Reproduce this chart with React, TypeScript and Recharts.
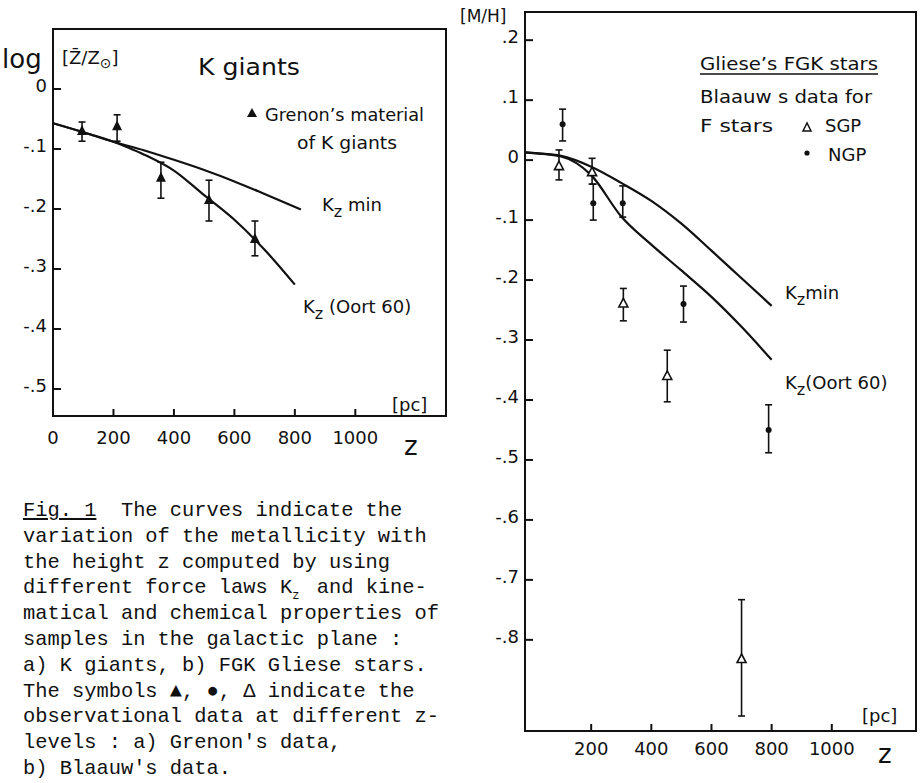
import React from 'react';
import { ComposedChart, Line, Scatter, XAxis, YAxis, ErrorBar, ReferenceArea } from 'recharts';

// ---- panel a) K giants ----
const kzMinZLeft = [0, 100, 200, 300, 400, 500, 600, 700, 820];
const kzMinLeft = [-0.057, -0.072, -0.088, -0.102, -0.118, -0.135, -0.154, -0.175, -0.201];
const kzOortZLeft = [0, 100, 200, 250, 300, 400, 500, 600, 700, 800];
const kzOortLeft = [-0.057, -0.072, -0.088, -0.098, -0.109, -0.136, -0.177, -0.218, -0.268, -0.326];

const grenonZ = [96, 212, 357, 516, 668];
const grenonVal = [-0.07, -0.062, -0.148, -0.185, -0.25];
const grenonHigh = [-0.055, -0.043, -0.122, -0.152, -0.22];
const grenonLow = [-0.087, -0.087, -0.182, -0.22, -0.278];

const xTicksLeft = [0, 200, 400, 600, 800, 1000];
const xTickLabelsLeft = ['0', '200', '400', '600', '800', '1000'];
const yTicksLeft = [0, -0.1, -0.2, -0.3, -0.4, -0.5];
const yTickLabelsLeft = ['0', '-.1', '-.2', '-.3', '-.4', '-.5'];

// ---- panel b) Gliese FGK stars ----
const curveZRight = [-20, 0, 100, 200, 300, 400, 500, 600, 700, 800];
const kzMinRight = [0.013, 0.012, 0.007, -0.011, -0.038, -0.068, -0.106, -0.151, -0.197, -0.243];
const kzOortRight = [0.013, 0.012, 0.006, -0.025, -0.094, -0.141, -0.184, -0.228, -0.278, -0.333];

const ngpZ = [105, 207, 305, 507, 790];
const ngpVal = [0.06, -0.072, -0.072, -0.24, -0.45];
const ngpHigh = [0.085, -0.04, -0.043, -0.21, -0.408];
const ngpLow = [0.032, -0.1, -0.095, -0.27, -0.488];

const sgpZ = [93, 203, 307, 453, 700];
const sgpVal = [-0.01, -0.02, -0.239, -0.36, -0.832];
const sgpHigh = [0.017, 0.003, -0.214, -0.317, -0.733];
const sgpLow = [-0.033, -0.04, -0.268, -0.403, -0.927];

const xTicksRight = [200, 400, 600, 800, 1000];
const xTickLabelsRight = ['200', '400', '600', '800', '1000'];
const yTicksRight = [0.2, 0.1, 0, -0.1, -0.2, -0.3, -0.4, -0.5, -0.6, -0.7, -0.8];
const yTickLabelsRight = ['.2', '.1', '0', '-.1', '-.2', '-.3', '-.4', '-.5', '-.6', '-.7', '-.8'];

const captionLines = [
  'The curves indicate the',
  'variation of the metallicity with',
  'the height z computed by using',
  'different force laws K',
  'matical and chemical properties of',
  'samples in the galactic plane :',
  'a) K giants, b) FGK Gliese stars.',
  'The symbols \u25B2, \u25CF, \u0394 indicate the',
  'observational data at different z-',
  'levels : a) Grenon\'s data,',
  'b) Blaauw\'s data.',
];

const INK = '#111';
const FONT = '"DejaVu Sans", sans-serif';

const toCurve = (zs: number[], vs: number[]) => zs.map((z, i) => ({ z, v: vs[i] }));
const toPoints = (zs: number[], vs: number[], hi: number[], lo: number[]) =>
  zs.map((z, i) => ({ z, v: vs[i], err: [vs[i] - lo[i], hi[i] - vs[i]] }));

const FilledTriangle = (p: any) => (
  <polygon points={`${p.cx},${p.cy - 6} ${p.cx - 5},${p.cy + 4} ${p.cx + 5},${p.cy + 4}`} fill={INK} />
);
const OpenTriangle = (p: any) => (
  <polygon
    points={`${p.cx},${p.cy - 5} ${p.cx - 4.5},${p.cy + 3.5} ${p.cx + 4.5},${p.cy + 3.5}`}
    fill="#fff"
    stroke={INK}
    strokeWidth={1.6}
  />
);
const Dot = (p: any) => <circle cx={p.cx} cy={p.cy} r={3} fill={INK} />;

// tick marks drawn inside the frame, labels outside
const makeXTick = (ticks: number[], labels: string[], off: number) => (p: any) => {
  const i = ticks.indexOf(p.payload.value);
  return (
    <g>
      {p.payload.value !== 0 && <line x1={p.x} x2={p.x} y1={p.y} y2={p.y - 7} stroke={INK} strokeWidth={2} />}
      <text x={p.x} y={p.y + off} textAnchor="middle" fontSize={18} fontFamily={FONT} fill={INK}>
        {labels[i]}
      </text>
    </g>
  );
};

const makeYTick = (ticks: number[], labels: string[]) => (p: any) => {
  const i = ticks.indexOf(p.payload.value);
  return (
    <g>
      <line x1={p.x} x2={p.x + 8} y1={p.y} y2={p.y} stroke={INK} strokeWidth={2} />
      <text x={p.x - 6} y={p.y + 3} textAnchor="end" fontSize={18} fontFamily={FONT} fill={INK}>
        {labels[i]}
      </text>
    </g>
  );
};

const Kz = ({ x, y, rest }: { x: number; y: number; rest: string }) => (
  <text x={x} y={y} fontSize={18} fontFamily={FONT} fill={INK}>
    K<tspan dy={6} fontSize={16}>z</tspan>
    <tspan dy={-6}>{rest}</tspan>
  </text>
);

export default function App() {
  const leftDomainX: [number, number] = [0, 1300];
  const leftDomainY: [number, number] = [-0.545, 0.1];
  const rightDomainX: [number, number] = [-20, 1280];
  const rightDomainY: [number, number] = [-0.952, 0.247];

  return (
    <div style={{ position: 'absolute', left: 0, top: 0, width: 921, height: 783, background: '#fff', overflow: 'hidden' }}>
      <div style={{ position: 'absolute', left: 0, top: 0 }}>
        <ComposedChart width={460} height={460} margin={{ top: 29, right: 14, bottom: 43, left: 52 }}>
          <XAxis
            type="number"
            dataKey="z"
            domain={leftDomainX}
            ticks={xTicksLeft}
            interval={0}
            allowDataOverflow
            axisLine={false}
            tickLine={false}
            tickSize={0}
            tickMargin={0}
            height={1}
            tick={makeXTick(xTicksLeft, xTickLabelsLeft, 28)}
          />
          <YAxis
            type="number"
            domain={leftDomainY}
            ticks={yTicksLeft}
            interval={0}
            allowDataOverflow
            axisLine={false}
            tickLine={false}
            tickSize={0}
            tickMargin={0}
            width={1}
            tick={makeYTick(yTicksLeft, yTickLabelsLeft)}
          />
          <ReferenceArea
            x1={leftDomainX[0]}
            x2={leftDomainX[1]}
            y1={leftDomainY[0]}
            y2={leftDomainY[1]}
            fill="none"
            stroke={INK}
            strokeWidth={2}
            ifOverflow="visible"
          />
          <Line data={toCurve(kzMinZLeft, kzMinLeft)} dataKey="v" type="monotone" stroke={INK} strokeWidth={2.2} dot={false} isAnimationActive={false} />
          <Line data={toCurve(kzOortZLeft, kzOortLeft)} dataKey="v" type="monotone" stroke={INK} strokeWidth={2.2} dot={false} isAnimationActive={false} />
          <Scatter data={toPoints(grenonZ, grenonVal, grenonHigh, grenonLow)} dataKey="v" shape={FilledTriangle} isAnimationActive={false}>
            <ErrorBar dataKey="err" direction="y" width={3.5} stroke={INK} strokeWidth={1.6} isAnimationActive={false} />
          </Scatter>
        </ComposedChart>
      </div>

      <div style={{ position: 'absolute', left: 460, top: 0 }}>
        <ComposedChart width={461} height={783} margin={{ top: 12, right: 5, bottom: 51, left: 64 }}>
          <XAxis
            type="number"
            dataKey="z"
            domain={rightDomainX}
            ticks={xTicksRight}
            interval={0}
            allowDataOverflow
            axisLine={false}
            tickLine={false}
            tickSize={0}
            tickMargin={0}
            height={1}
            tick={makeXTick(xTicksRight, xTickLabelsRight, 24)}
          />
          <YAxis
            type="number"
            domain={rightDomainY}
            ticks={yTicksRight}
            interval={0}
            allowDataOverflow
            axisLine={false}
            tickLine={false}
            tickSize={0}
            tickMargin={0}
            width={1}
            tick={makeYTick(yTicksRight, yTickLabelsRight)}
          />
          <ReferenceArea
            x1={rightDomainX[0]}
            x2={rightDomainX[1]}
            y1={rightDomainY[0]}
            y2={rightDomainY[1]}
            fill="none"
            stroke={INK}
            strokeWidth={2}
            ifOverflow="visible"
          />
          <Line data={toCurve(curveZRight, kzMinRight)} dataKey="v" type="monotone" stroke={INK} strokeWidth={2.2} dot={false} isAnimationActive={false} />
          <Line data={toCurve(curveZRight, kzOortRight)} dataKey="v" type="monotone" stroke={INK} strokeWidth={2.2} dot={false} isAnimationActive={false} />
          <Scatter data={toPoints(ngpZ, ngpVal, ngpHigh, ngpLow)} dataKey="v" shape={Dot} isAnimationActive={false}>
            <ErrorBar dataKey="err" direction="y" width={3.5} stroke={INK} strokeWidth={1.6} isAnimationActive={false} />
          </Scatter>
          <Scatter data={toPoints(sgpZ, sgpVal, sgpHigh, sgpLow)} dataKey="v" shape={OpenTriangle} isAnimationActive={false}>
            <ErrorBar dataKey="err" direction="y" width={3.5} stroke={INK} strokeWidth={1.6} isAnimationActive={false} />
          </Scatter>
        </ComposedChart>
      </div>

      {/* lettering of both panels */}
      <svg width={921} height={783} style={{ position: 'absolute', left: 0, top: 0, pointerEvents: 'none' }}>
        <text x={2} y={68} fontSize={26} fontFamily={FONT} fill={INK}>log</text>
        <text x={62} y={64} fontSize={18} fontFamily={FONT} fill={INK}>
          [Z̄/Z<tspan dy={4} fontSize={14}>⊙</tspan><tspan dy={-4}>]</tspan>
        </text>
        <text x={198} y={75} fontSize={23} fontFamily={FONT} fill={INK} textLength={102} lengthAdjust="spacingAndGlyphs">K giants</text>
        <polygon points="252,108 247,117 257,117" fill={INK} />
        <text x={265} y={121} fontSize={17.5} fontFamily={FONT} fill={INK} textLength={159} lengthAdjust="spacingAndGlyphs">Grenon’s material</text>
        <text x={297} y={149} fontSize={17.5} fontFamily={FONT} fill={INK} textLength={100} lengthAdjust="spacingAndGlyphs">of K giants</text>
        <Kz x={322} y={211} rest=" min" />
        <Kz x={303} y={313} rest=" (Oort 60)" />
        <text x={392} y={411} fontSize={18} fontFamily={FONT} fill={INK}>[pc]</text>
        <text x={404} y={455} fontSize={26} fontFamily={FONT} fill={INK}>z</text>

        <text x={460} y={22} fontSize={17} fontFamily={FONT} fill={INK}>[M/H]</text>
        <text x={700} y={70} fontSize={18} fontFamily={FONT} fill={INK} textLength={178} lengthAdjust="spacingAndGlyphs">Gliese’s FGK stars</text>
        <line x1={700} x2={878} y1={74} y2={74} stroke={INK} strokeWidth={1.4} />
        <text x={700} y={103} fontSize={18} fontFamily={FONT} fill={INK} textLength={172} lengthAdjust="spacingAndGlyphs">Blaauw s data for</text>
        <text x={700} y={132} fontSize={18} fontFamily={FONT} fill={INK} textLength={73} lengthAdjust="spacingAndGlyphs">F stars</text>
        <polygon points="807,123 803,131 811,131" fill="#fff" stroke={INK} strokeWidth={1.5} />
        <text x={825} y={132} fontSize={18} fontFamily={FONT} fill={INK}>SGP</text>
        <circle cx={807} cy={153} r={2.6} fill={INK} />
        <text x={828} y={161} fontSize={18} fontFamily={FONT} fill={INK}>NGP</text>
        <Kz x={785} y={299} rest="min" />
        <Kz x={785} y={389} rest="(Oort 60)" />
        <text x={862} y={722} fontSize={18} fontFamily={FONT} fill={INK}>[pc]</text>
        <text x={878} y={763} fontSize={26} fontFamily={FONT} fill={INK}>z</text>
      </svg>

      {/* caption */}
      <div
        style={{
          position: 'absolute',
          left: 23,
          top: 498,
          fontFamily: '"Liberation Mono", "DejaVu Sans Mono", monospace',
          fontSize: 20.4,
          lineHeight: '25.8px',
          whiteSpace: 'pre',
          color: INK,
        }}
      >
        {captionLines.map((l, i) => (
          <div key={i}>
            {i === 0 && <span style={{ textDecoration: 'underline' }}>Fig. 1</span>}
            {i === 0 ? '  ' + l : l}
            {i === 3 && (
              <>
                <span
                  style={{
                    display: 'inline-block',
                    width: 24.5,
                    fontSize: 12,
                    lineHeight: '18px',
                    position: 'relative',
                    top: 6,
                  }}
                >
                  z
                </span>
                {'and kine-'}
              </>
            )}
          </div>
        ))}
      </div>
    </div>
  );
}
